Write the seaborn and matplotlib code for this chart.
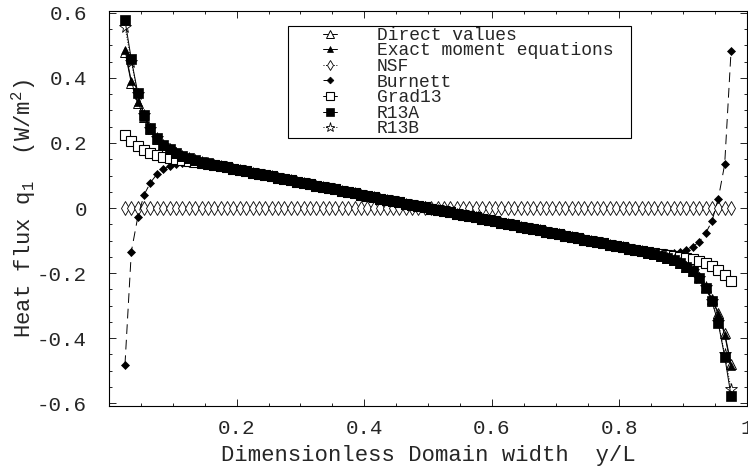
import numpy as np
import matplotlib
matplotlib.use("Agg")
import matplotlib.pyplot as plt
import seaborn as sns
from matplotlib.ticker import MultipleLocator
from matplotlib.legend_handler import HandlerLine2D
from matplotlib.lines import Line2D
from matplotlib.patches import Rectangle

# ---------------- data ----------------
y_over_L = [
    0.025, 0.035, 0.045, 0.055, 0.065, 0.075, 0.085, 0.095, 0.105, 0.115,
    0.125, 0.135, 0.145, 0.155, 0.165, 0.175, 0.185, 0.195, 0.205, 0.215,
    0.225, 0.235, 0.245, 0.255, 0.265, 0.275, 0.285, 0.295, 0.305, 0.315,
    0.325, 0.335, 0.345, 0.355, 0.365, 0.375, 0.385, 0.395, 0.405, 0.415,
    0.425, 0.435, 0.445, 0.455, 0.465, 0.475, 0.485, 0.495, 0.505, 0.515,
    0.525, 0.535, 0.545, 0.555, 0.565, 0.575, 0.585, 0.595, 0.605, 0.615,
    0.625, 0.635, 0.645, 0.655, 0.665, 0.675, 0.685, 0.695, 0.705, 0.715,
    0.725, 0.735, 0.745, 0.755, 0.765, 0.775, 0.785, 0.795, 0.805, 0.815,
    0.825, 0.835, 0.845, 0.855, 0.865, 0.875, 0.885, 0.895, 0.905, 0.915,
    0.925, 0.935, 0.945, 0.955, 0.965, 0.975]

direct_values = [
    0.481, 0.384, 0.322, 0.279, 0.242, 0.212, 0.193, 0.180, 0.169, 0.160,
    0.153, 0.147, 0.142, 0.137, 0.133, 0.129, 0.125, 0.121, 0.117, 0.113,
    0.109, 0.105, 0.101, 0.097, 0.093, 0.089, 0.085, 0.081, 0.077, 0.073,
    0.069, 0.065, 0.061, 0.057, 0.053, 0.049, 0.045, 0.041, 0.037, 0.033,
    0.029, 0.025, 0.021, 0.017, 0.013, 0.010, 0.006, 0.002, -0.002, -0.006,
    -0.010, -0.013, -0.017, -0.021, -0.025, -0.029, -0.033, -0.037, -0.041, -0.045,
    -0.049, -0.053, -0.057, -0.061, -0.065, -0.069, -0.073, -0.077, -0.081, -0.085,
    -0.089, -0.093, -0.097, -0.101, -0.105, -0.109, -0.113, -0.117, -0.121, -0.125,
    -0.129, -0.133, -0.137, -0.142, -0.147, -0.153, -0.160, -0.169, -0.180, -0.193,
    -0.212, -0.242, -0.279, -0.322, -0.384, -0.481]

exact_moment = [
    0.487, 0.390, 0.326, 0.281, 0.243, 0.213, 0.193, 0.180, 0.169, 0.160,
    0.153, 0.147, 0.142, 0.137, 0.133, 0.129, 0.125, 0.121, 0.117, 0.113,
    0.109, 0.105, 0.101, 0.097, 0.093, 0.089, 0.085, 0.081, 0.077, 0.073,
    0.069, 0.065, 0.061, 0.057, 0.053, 0.049, 0.045, 0.041, 0.037, 0.033,
    0.029, 0.025, 0.021, 0.017, 0.013, 0.010, 0.006, 0.002, -0.002, -0.006,
    -0.010, -0.013, -0.017, -0.021, -0.025, -0.029, -0.033, -0.037, -0.041, -0.045,
    -0.049, -0.053, -0.057, -0.061, -0.065, -0.069, -0.073, -0.077, -0.081, -0.085,
    -0.089, -0.093, -0.097, -0.101, -0.105, -0.109, -0.113, -0.117, -0.121, -0.125,
    -0.129, -0.133, -0.137, -0.142, -0.147, -0.153, -0.160, -0.169, -0.180, -0.193,
    -0.213, -0.243, -0.281, -0.326, -0.390, -0.487]

nsf = [
    0.0, 0.0, 0.0, 0.0, 0.0, 0.0, 0.0, 0.0, 0.0, 0.0,
    0.0, 0.0, 0.0, 0.0, 0.0, 0.0, 0.0, 0.0, 0.0, 0.0,
    0.0, 0.0, 0.0, 0.0, 0.0, 0.0, 0.0, 0.0, 0.0, 0.0,
    0.0, 0.0, 0.0, 0.0, 0.0, 0.0, 0.0, 0.0, 0.0, 0.0,
    0.0, 0.0, 0.0, 0.0, 0.0, 0.0, 0.0, 0.0, 0.0, 0.0,
    0.0, 0.0, 0.0, 0.0, 0.0, 0.0, 0.0, 0.0, 0.0, 0.0,
    0.0, 0.0, 0.0, 0.0, 0.0, 0.0, 0.0, 0.0, 0.0, 0.0,
    0.0, 0.0, 0.0, 0.0, 0.0, 0.0, 0.0, 0.0, 0.0, 0.0,
    0.0, 0.0, 0.0, 0.0, 0.0, 0.0, 0.0, 0.0, 0.0, 0.0,
    0.0, 0.0, 0.0, 0.0, 0.0, 0.0]

burnett = [
    -0.483, -0.134, -0.029, 0.041, 0.078, 0.104, 0.119, 0.129, 0.134, 0.137,
    0.138, 0.138, 0.137, 0.135, 0.132, 0.129, 0.125, 0.121, 0.117, 0.113,
    0.109, 0.105, 0.101, 0.097, 0.093, 0.089, 0.085, 0.081, 0.077, 0.073,
    0.069, 0.065, 0.061, 0.057, 0.053, 0.049, 0.045, 0.041, 0.037, 0.033,
    0.029, 0.025, 0.021, 0.017, 0.013, 0.010, 0.006, 0.002, -0.002, -0.006,
    -0.010, -0.013, -0.017, -0.021, -0.025, -0.029, -0.033, -0.037, -0.041, -0.045,
    -0.049, -0.053, -0.057, -0.061, -0.065, -0.069, -0.073, -0.077, -0.081, -0.085,
    -0.089, -0.093, -0.097, -0.101, -0.105, -0.109, -0.113, -0.117, -0.121, -0.125,
    -0.129, -0.132, -0.135, -0.137, -0.138, -0.138, -0.137, -0.134, -0.129, -0.119,
    -0.104, -0.078, -0.041, 0.029, 0.134, 0.483]

grad13 = [
    0.225, 0.205, 0.190, 0.179, 0.170, 0.163, 0.158, 0.154, 0.150, 0.147,
    0.144, 0.141, 0.138, 0.135, 0.132, 0.128, 0.125, 0.121, 0.117, 0.113,
    0.109, 0.105, 0.101, 0.097, 0.093, 0.089, 0.085, 0.081, 0.077, 0.073,
    0.069, 0.065, 0.061, 0.057, 0.053, 0.049, 0.045, 0.041, 0.037, 0.033,
    0.029, 0.025, 0.021, 0.017, 0.013, 0.010, 0.006, 0.002, -0.002, -0.006,
    -0.010, -0.013, -0.017, -0.021, -0.025, -0.029, -0.033, -0.037, -0.041, -0.045,
    -0.049, -0.053, -0.057, -0.061, -0.065, -0.069, -0.073, -0.077, -0.081, -0.085,
    -0.089, -0.093, -0.097, -0.101, -0.105, -0.109, -0.113, -0.117, -0.121, -0.125,
    -0.128, -0.132, -0.135, -0.138, -0.141, -0.144, -0.147, -0.150, -0.154, -0.158,
    -0.163, -0.170, -0.179, -0.190, -0.205, -0.225]

r13a = [
    0.578, 0.457, 0.355, 0.286, 0.245, 0.214, 0.194, 0.180, 0.169, 0.160,
    0.153, 0.147, 0.142, 0.137, 0.133, 0.129, 0.125, 0.121, 0.117, 0.113,
    0.109, 0.105, 0.101, 0.097, 0.093, 0.089, 0.085, 0.081, 0.077, 0.073,
    0.069, 0.065, 0.061, 0.057, 0.053, 0.049, 0.045, 0.041, 0.037, 0.033,
    0.029, 0.025, 0.021, 0.017, 0.013, 0.010, 0.006, 0.002, -0.002, -0.006,
    -0.010, -0.013, -0.017, -0.021, -0.025, -0.029, -0.033, -0.037, -0.041, -0.045,
    -0.049, -0.053, -0.057, -0.061, -0.065, -0.069, -0.073, -0.077, -0.081, -0.085,
    -0.089, -0.093, -0.097, -0.101, -0.105, -0.109, -0.113, -0.117, -0.121, -0.125,
    -0.129, -0.133, -0.137, -0.142, -0.147, -0.153, -0.160, -0.169, -0.180, -0.194,
    -0.214, -0.245, -0.286, -0.355, -0.457, -0.578]

r13b = [
    0.558, 0.450, 0.352, 0.285, 0.244, 0.214, 0.194, 0.180, 0.169, 0.160,
    0.153, 0.147, 0.142, 0.137, 0.133, 0.129, 0.125, 0.121, 0.117, 0.113,
    0.109, 0.105, 0.101, 0.097, 0.093, 0.089, 0.085, 0.081, 0.077, 0.073,
    0.069, 0.065, 0.061, 0.057, 0.053, 0.049, 0.045, 0.041, 0.037, 0.033,
    0.029, 0.025, 0.021, 0.017, 0.013, 0.010, 0.006, 0.002, -0.002, -0.006,
    -0.010, -0.013, -0.017, -0.021, -0.025, -0.029, -0.033, -0.037, -0.041, -0.045,
    -0.049, -0.053, -0.057, -0.061, -0.065, -0.069, -0.073, -0.077, -0.081, -0.085,
    -0.089, -0.093, -0.097, -0.101, -0.105, -0.109, -0.113, -0.117, -0.121, -0.125,
    -0.129, -0.133, -0.137, -0.142, -0.147, -0.153, -0.160, -0.169, -0.180, -0.194,
    -0.214, -0.244, -0.285, -0.352, -0.450, -0.558]

series_names = ["Direct values", "Exact moment equations", "NSF", "Burnett",
                "Grad13", "R13A", "R13B"]

x_tick_values = [0.2, 0.4, 0.6, 0.8, 1.0]
x_tick_labels = ["0.2", "0.4", "0.6", "0.8", "1"]
y_tick_values = [-0.6, -0.4, -0.2, 0.0, 0.2, 0.4, 0.6]
y_tick_labels = ["-0.6", "-0.4", "-0.2", "0", "0.2", "0.4", "0.6"]

# ---------------- style ----------------
sns.set_style("ticks")
plt.rcParams["font.family"] = ["Liberation Mono", "DejaVu Sans"]
plt.rcParams["mathtext.default"] = "regular"

W, H = 748, 471
fig = plt.figure(figsize=(W / 100, H / 100), dpi=100)
ax = fig.add_axes([109 / W, 1 - 406 / H, 638 / W, 395 / H])

styles = {
    "NSF":  dict(values=nsf, ls=":", marker="d", ms=7.0, mfc="white", mew=0.6, z=2),
    "Burnett": dict(values=burnett, ls=(0, (10, 6)), marker="D", ms=4.3, mfc="black", mew=0.5, z=3),
    "Grad13": dict(values=grad13, ls="-", marker="s", ms=7.3, mfc="white", mew=0.8, z=4),
    "Direct values": dict(values=direct_values, ls="-", marker="^", ms=7.0, mfc="white", mew=0.7, z=5),
    "R13B": dict(values=r13b, ls=":", marker="*", ms=8.5, mfc="white", mew=0.6, z=6),
    "Exact moment equations": dict(values=exact_moment, ls="-", marker="^", ms=6.0, mfc="black", mew=0.5, z=7),
    "R13A": dict(values=r13a, ls="-", marker="s", ms=7.8, mfc="black", mew=0.5, z=8),
}

handles = {}
for name in ["NSF", "Burnett", "Grad13", "Direct values", "R13B",
             "Exact moment equations", "R13A"]:
    st = styles[name]
    sns.lineplot(x=y_over_L, y=st["values"], ax=ax, color="black",
                 linewidth=0.7, linestyle=st["ls"], marker=st["marker"],
                 markersize=st["ms"], markerfacecolor=st["mfc"],
                 markeredgecolor="black", markeredgewidth=st["mew"],
                 legend=False, sort=False, errorbar=None, zorder=st["z"])
    handles[name] = ax.lines[-1]

ax.set_xlim(0.0, 1.0)
ax.set_ylim(-0.609, 0.606)

ax.set_xticks(x_tick_values)
ax.set_xticklabels(x_tick_labels)
ax.set_yticks(y_tick_values)
ax.set_yticklabels(y_tick_labels)
ax.xaxis.set_minor_locator(MultipleLocator(0.05))
ax.yaxis.set_minor_locator(MultipleLocator(0.05))
ax.tick_params(which="both", direction="in", top=True, right=True,
               color="black", width=0.6)
ax.tick_params(which="major", length=4.8, labelsize=15)
ax.tick_params(which="minor", length=2.4)
ax.tick_params(axis="y", which="major", pad=16)
ax.tick_params(axis="x", which="major", pad=9)
for sp in ax.spines.values():
    sp.set_visible(True)
    sp.set_color("black")
    sp.set_linewidth(0.8)

ax.set_xlabel("Dimensionless Domain width  y/L", fontsize=16)
ax.set_ylabel("Heat flux q$_1$  (W/m$^2$)", fontsize=16)
ax.xaxis.set_label_coords(0.5, -0.098)
ax.yaxis.set_label_coords(-0.112, 0.5)


class ShortLine(HandlerLine2D):
    def get_xdata(self, legend, xdescent, ydescent, width, height, fontsize):
        c = -xdescent + width / 2.0
        half = 0.38 * fontsize
        return np.array([c - half, c + half]), np.array([c])


# legend frame drawn as a plain rectangle so its width matches the reference
frame = Rectangle((288 / W, 1 - 138 / H), 343 / W, 112 / H,
                  transform=fig.transFigure, facecolor="white",
                  edgecolor="black", linewidth=0.8, zorder=19, clip_on=False)
ax.add_artist(frame)

leg = ax.legend([handles[n] for n in series_names], series_names,
                loc="upper left", bbox_to_anchor=(288 / W, 1 - 26 / H),
                bbox_transform=fig.transFigure, borderaxespad=0,
                frameon=False, fontsize=13, handlelength=4.57,
                handletextpad=0.3, borderpad=0.05, labelspacing=-0.078,
                markerscale=0.8,
                handler_map={Line2D: ShortLine(numpoints=1)})
leg.set_zorder(20)

fig.savefig("out.png", dpi=100)
